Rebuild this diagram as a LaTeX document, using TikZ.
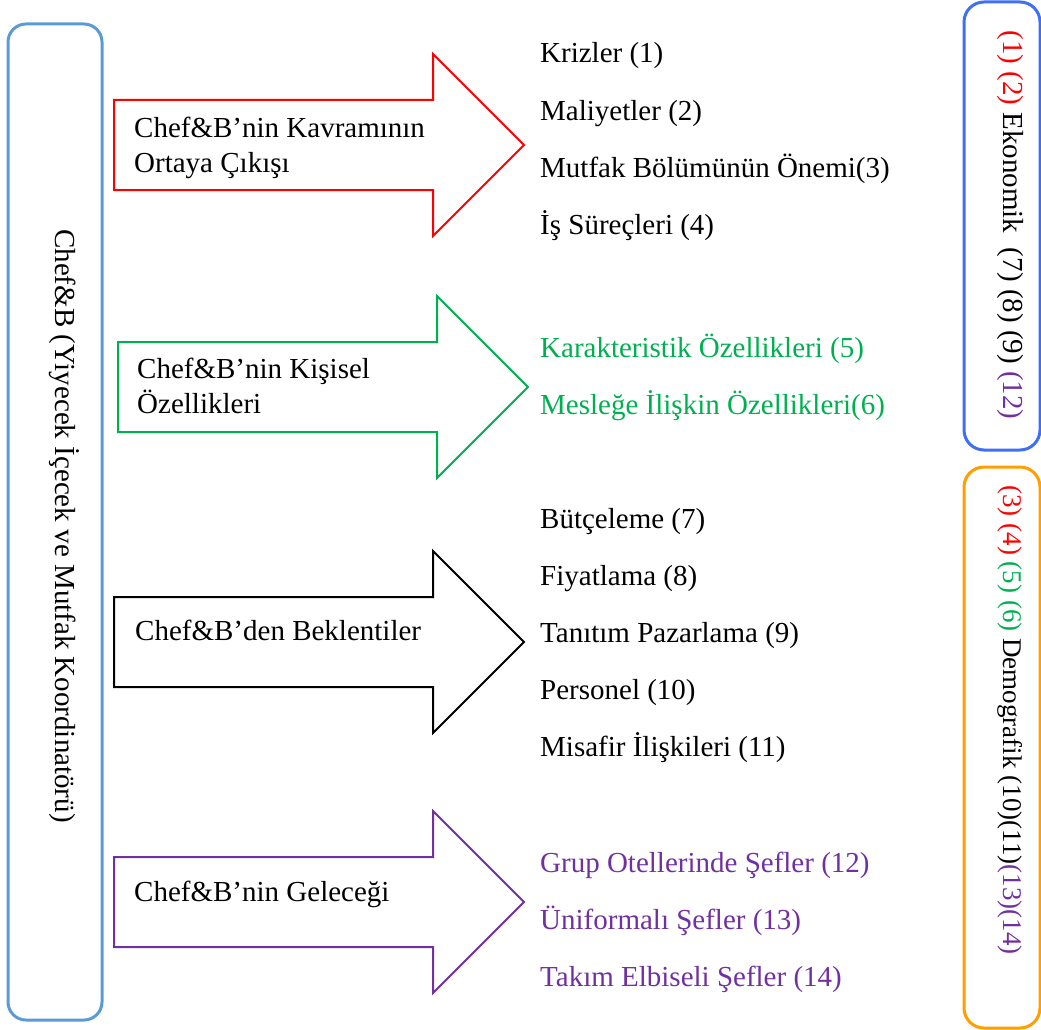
\documentclass[tikz,border=0pt]{standalone}
\usepackage{fontspec}
\setmainfont{Liberation Serif}
\usetikzlibrary{positioning}
\definecolor{frame-color}{HTML}{5B9BD5}
\definecolor{origin-color}{HTML}{FF0000}
\definecolor{trait-color}{HTML}{00B050}
\definecolor{future-color}{HTML}{7030A0}
\definecolor{econ-color}{HTML}{3F6FF2}
\definecolor{demo-color}{HTML}{FF9E00}

\begin{document}
\begin{tikzpicture}[x=1pt, y=-1pt,
  every node/.style={inner sep=0pt, font=\fontsize{29}{35}\selectfont},
  arrow-line/.style={line width=2pt, fill=white, draw=#1},
  side-box/.style={line width=3pt, rounded corners=20pt}]
\useasboundingbox (0,0) rectangle (1041,1030);

% left frame
\draw[frame-color, line width=3pt, rounded corners=18pt] (8,24) rectangle (102,1020);
\node(main) [rotate=-90] at (64,526) {Chef\&B (Yiyecek İçecek ve Mutfak Koordinatörü)};

% the four block arrows
\foreach \x/\y/\c in {0/145/origin-color, 4/387/trait-color, 0/642/black, 0/902/future-color}
  \draw[arrow-line=\c] (114+\x,\y-45) -- (433+\x,\y-45) -- (433+\x,\y-91)
    -- (524+\x,\y) -- (433+\x,\y+91) -- (433+\x,\y+45) -- (114+\x,\y+45) -- cycle;

\node(a1) [anchor=base west, align=left] at (134,172) {Chef\&B’nin Kavramının\\Ortaya Çıkışı};
\node(a2) [anchor=base west, align=left] at (137,413) {Chef\&B’nin Kişisel\\Özellikleri};
\node(a3) [anchor=base west] at (135,640) {Chef\&B’den Beklentiler};
\node(a4) [anchor=base west] at (134,901) {Chef\&B’nin Geleceği};

% lists right of the arrows
\foreach \t [count=\i] in {Krizler (1), Maliyetler (2), Mutfak Bölümünün Önemi(3), İş Süreçleri (4)}
  \node(k\i) [anchor=base west] at (540,63+57.3*\i-57.3) {\t};
\foreach \t [count=\i] in {Karakteristik Özellikleri (5), Mesleğe İlişkin Özellikleri(6)}
  \node(o\i) [anchor=base west, trait-color] at (540,357+57.3*\i-57.3) {\t};
\foreach \t [count=\i] in {Bütçeleme (7), Fiyatlama (8), Tanıtım Pazarlama (9), Personel (10), Misafir İlişkileri (11)}
  \node(b\i) [anchor=base west] at (540,528+57*\i-57) {\t};
\foreach \t [count=\i] in {Grup Otellerinde Şefler (12), Üniformalı Şefler (13), Takım Elbiseli Şefler (14)}
  \node(g\i) [anchor=base west, future-color] at (540,872+57*\i-57) {\t};

% economic / demographic
\draw[side-box, econ-color] (964,2) rectangle (1040,450);
\node(econ) [rotate=-90] at (1010,225) {\textcolor{origin-color}{(1) (2)} Ekonomik~ (7) (8) (9) \textcolor{future-color}{(12)}};
\draw[side-box, demo-color] (964,467) rectangle (1040,1028);
\node(demo) [rotate=-90, font=\fontsize{27}{32}\selectfont] at (1010,720) {\textcolor{origin-color}{(3) (4)} \textcolor{trait-color}{(5) (6)} Demografik (10)(11)\textcolor{future-color}{(13)(14)}};

\end{tikzpicture}
\end{document}
